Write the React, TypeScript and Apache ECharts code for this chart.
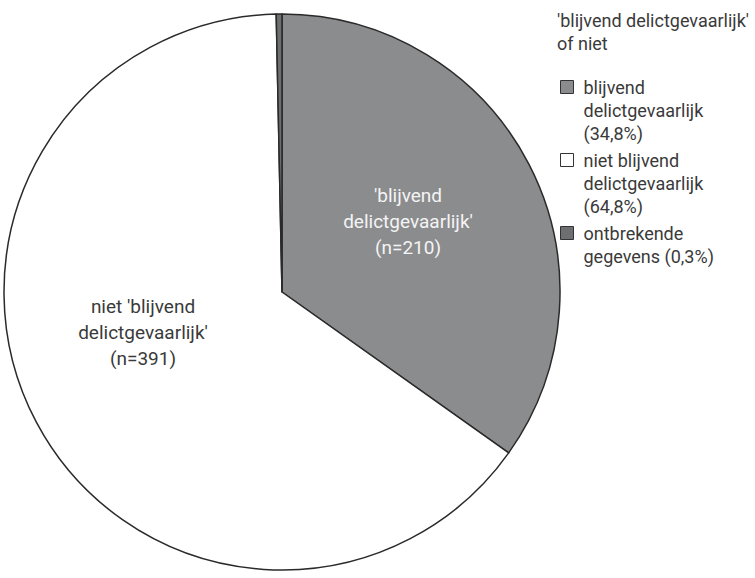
import React, { useEffect, useRef } from "react";
import * as echarts from "echarts";

const categories = ["blijvend delictgevaarlijk", "niet blijvend delictgevaarlijk", "ontbrekende gegevens"];
const counts = [210, 391, 2];
const sliceColors = ["#8b8c8e", "#ffffff", "#6e6f71"];
const sliceLabelColors = ["#f4f4f4", "#3a3a3a", "#3a3a3a"];
const sliceLabels = ["'blijvend\ndelictgevaarlijk'\n(n=210)", "niet 'blijvend\ndelictgevaarlijk'\n(n=391)", ""];
const legendLines = [
  ["blijvend", "delictgevaarlijk", "(34,8%)"],
  ["niet blijvend", "delictgevaarlijk", "(64,8%)"],
  ["ontbrekende", "gegevens (0,3%)"],
];
const legendTitle = "'blijvend delictgevaarlijk'\nof niet";
const labelCenters = [[408, 221], [143, 332]];

const FONT = "Roboto";
const LH = 23;
const MAXLINES = 3;

// pad each legend text so its first line sits level with the icon
function legendText(lines: string[]) {
  const total = 2 * MAXLINES - 1;
  const before = MAXLINES - 1;
  const after = total - before - lines.length;
  const out: string[] = [];
  for (let i = 0; i < before; i++) out.push(" ");
  out.push(...lines);
  for (let i = 0; i < after; i++) out.push(" ");
  return out.join("\n");
}

export default function App() {
  const ref = useRef<HTMLDivElement>(null);
  useEffect(() => {
    if (!ref.current) return;
    const chart = echarts.init(ref.current, undefined, { renderer: "svg" });
    const H = (2 * MAXLINES - 1) * LH;
    const option: any = {
      animation: false,
      backgroundColor: "#ffffff",
      title: {
        text: legendTitle,
        left: 557,
        top: 8.5,
        padding: 0,
        textStyle: { fontFamily: FONT, fontSize: 18, fontWeight: "normal", color: "#3a3a3a", lineHeight: LH },
      },
      legend: {
        orient: "vertical",
        left: 560,
        top: 87 - H / 2,
        padding: 0,
        icon: "rect",
        itemWidth: 13,
        itemHeight: 13,
        itemGap: 73 - H,
        selectedMode: false,
        itemStyle: { borderColor: "#333333", borderWidth: 1 },
        textStyle: { fontFamily: FONT, fontSize: 18, color: "#3a3a3a", lineHeight: LH, padding: [0, 0, 0, 5] },
        data: categories,
        formatter: (name: string) => legendText(legendLines[categories.indexOf(name)]),
      },
      series: [
        {
          type: "pie",
          center: [282, 292],
          radius: 278,
          startAngle: 90,
          clockwise: true,
          silent: true,
          emphasis: { disabled: true },
          itemStyle: { borderColor: "#2a2a2a", borderWidth: 1.5 },
          labelLine: { show: false },
          label: {
            position: "inside",
            fontFamily: FONT,
            fontSize: 19,
            lineHeight: 26,
            align: "center",
          },
          labelLayout: (params: any) => {
            const c = labelCenters[params.dataIndex];
            if (!c) return {};
            return { x: c[0], y: c[1], align: "center", verticalAlign: "middle" };
          },
          data: categories.map((name, i) => ({
            name,
            value: counts[i],
            itemStyle: { color: sliceColors[i] },
            label: {
              show: sliceLabels[i] !== "",
              formatter: sliceLabels[i],
              color: sliceLabelColors[i],
            },
          })),
        },
      ],
    };
    chart.setOption(option);
    return () => chart.dispose();
  }, []);
  return <div ref={ref} style={{ width: 755, height: 578, position: "absolute", left: 0, top: 0 }} />;
}
